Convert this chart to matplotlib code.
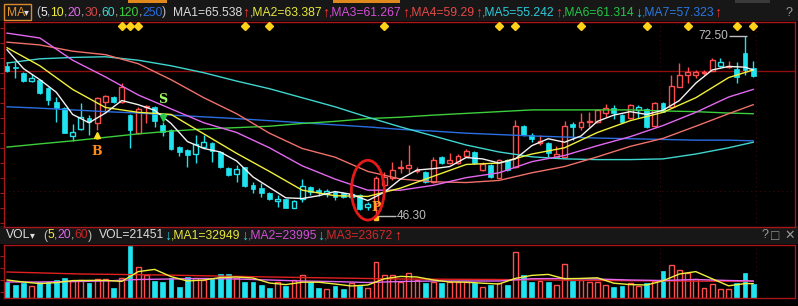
import matplotlib
matplotlib.use("Agg")
import matplotlib.pyplot as plt
from matplotlib.patches import Rectangle, Ellipse
from matplotlib.transforms import blended_transform_factory
import numpy as np

# daily candles, oldest first (price)
opens = [68.2, 68.0, 67.2, 66.0, 66.2, 65.0, 63.0, 62.1, 58.1, 59.1,
         60.7, 60.0, 63.0, 63.7, 63.0, 61.1, 58.5, 62.2, 62.3, 59.7,
         59.0, 56.5, 56.1, 55.5, 56.5, 57.1, 55.8, 53.5, 52.6, 53.6,
         51.1, 50.6, 49.9, 48.8, 49.0, 47.8, 49.0, 50.8, 50.3, 49.8,
         50.1, 49.9, 49.3, 49.6, 47.9, 48.5, 51.1, 52.1, 53.5, 53.5,
         53.1, 52.9, 51.5, 55.1, 54.2, 54.2, 55.2, 55.8, 53.2, 53.9,
         52.1, 54.7, 53.7, 59.6, 58.3, 57.1, 57.1, 55.1, 55.1, 59.8,
         59.4, 60.1, 60.1, 61.4, 62.1, 61.1, 60.7, 61.8, 62.0, 59.5,
         62.9, 62.3, 65.2, 66.9, 66.9, 67.2, 67.5, 68.2, 68.0, 67.8,
         70.1, 67.9]
highs = [68.8, 68.8, 67.3, 67.0, 66.3, 65.1, 63.7, 62.2, 59.8, 62.9,
         61.1, 63.7, 64.0, 63.8, 65.7, 61.2, 62.3, 62.5, 62.4, 60.1,
         59.1, 56.7, 56.2, 58.3, 58.3, 57.2, 55.9, 53.6, 53.9, 53.7,
         51.5, 51.3, 50.0, 49.6, 49.1, 48.9, 51.9, 50.9, 50.6, 50.5,
         50.2, 50.0, 49.9, 49.7, 48.6, 52.4, 52.9, 54.4, 54.7, 56.8,
         53.6, 53.0, 55.1, 55.2, 55.7, 55.5, 56.2, 56.0, 54.3, 54.0,
         54.8, 54.8, 60.4, 59.7, 58.5, 58.3, 57.2, 56.7, 60.3, 60.1,
         61.4, 61.6, 61.9, 62.7, 62.6, 61.3, 62.7, 62.6, 62.1, 63.0,
         63.0, 66.9, 68.6, 68.0, 67.6, 67.6, 69.3, 69.3, 68.9, 68.8,
         72.5, 68.9]
lows = [67.3, 66.5, 65.9, 65.9, 64.2, 62.6, 60.1, 58.5, 57.4, 59.0,
        58.3, 59.0, 61.4, 62.9, 62.9, 56.4, 58.4, 60.0, 59.4, 58.1,
        56.1, 55.2, 53.6, 54.2, 56.4, 54.4, 53.5, 52.3, 51.5, 50.8,
        49.9, 49.3, 48.9, 47.9, 47.7, 47.7, 48.6, 49.6, 49.5, 49.3,
        48.9, 49.2, 49.2, 47.5, 47.5, 46.3, 50.9, 51.8, 52.8, 52.8,
        52.8, 51.4, 51.4, 54.1, 54.1, 54.1, 55.1, 54.1, 53.1, 52.1,
        52.0, 53.1, 53.5, 58.1, 57.3, 56.8, 55.1, 54.9, 55.0, 57.5,
        59.0, 59.4, 60.0, 60.8, 60.6, 60.0, 60.6, 60.7, 59.3, 59.4,
        61.5, 62.2, 65.1, 65.7, 66.5, 66.9, 67.4, 68.0, 67.9, 65.7,
        66.9, 66.6]
closes = [67.5, 67.9, 66.0, 66.5, 64.3, 63.3, 62.1, 58.5, 58.7, 60.8,
          60.1, 63.6, 63.9, 63.0, 65.2, 59.0, 62.0, 62.4, 60.3, 58.7,
          56.2, 55.8, 55.4, 57.0, 57.2, 56.0, 53.6, 52.5, 53.4, 50.9,
          50.5, 49.9, 49.0, 49.0, 47.8, 48.8, 50.9, 50.1, 50.0, 50.2,
          49.3, 49.3, 49.8, 47.6, 48.3, 52.1, 52.2, 53.2, 53.65, 53.9,
          53.2, 51.5, 54.7, 54.2, 54.7, 55.2, 56.0, 54.2, 54.1, 52.2,
          54.7, 53.2, 59.6, 58.3, 57.7, 57.4, 55.7, 55.5, 59.6, 59.4,
          60.1, 60.3, 61.8, 62.1, 61.4, 60.1, 62.6, 62.3, 59.4, 62.9,
          61.6, 65.3, 66.9, 67.3, 67.3, 67.35, 69.0, 68.8, 68.2, 66.6,
          67.6, 66.7]
# volume, thousand lots
volumes = [16, 13, 15, 12, 16, 16, 18, 20, 17, 18,
           15, 19, 19, 10, 20, 52, 31, 23, 17, 16,
           20, 11, 21, 20, 18, 19, 24, 24, 20, 16,
           16, 13, 10, 16, 12, 18, 23, 16, 10, 9,
           12, 9, 15, 12, 10, 36, 23, 23, 16, 25,
           18, 15, 16, 15, 16, 16, 16, 15, 11, 13,
           15, 13, 46, 23, 16, 17, 16, 13, 34, 17,
           18, 16, 16, 13, 11, 12, 15, 12, 15, 17,
           27, 33, 28, 25, 19, 10, 14, 9, 9, 15,
           25, 14]
# up days that the software paints cyan (hollow)
cyan_up = [3, 8, 9, 23, 24, 28, 33, 35, 36, 39, 42, 44, 77, 87]
# yellow diamond markers on top
event_idx = [14, 15, 16, 29, 32, 46, 60, 62, 70, 78, 83, 89, 91]
buy_idx, sell_idx, low_idx, high_idx = 11, 19, 45, 90
ref_price = 67.5

# moving averages
ma5_idx = [0, 2, 4, 6, 8, 10, 12, 14, 16, 18, 20, 22, 24, 26, 28, 30,
           32, 34, 36, 38, 40, 42, 44, 46, 48, 50, 52, 54, 56, 58, 60,
           62, 64, 66, 68, 70, 72, 74, 76, 78, 80, 82, 84, 86, 88, 90, 91]
ma5 = [70.5, 67.8, 66.2, 64.4, 61.2, 60.0, 61.4, 63.2, 62.6, 61.8, 59.9,
       57.3, 56.3, 55.8, 54.5, 52.2, 50.7, 49.2, 49.1, 49.5, 50.1, 49.7,
       48.8, 50.0, 51.9, 53.2, 53.4, 53.7, 55.0, 54.8, 54.2, 54.8, 56.7,
       57.7, 57.2, 58.1, 60.2, 61.1, 61.6, 61.2, 61.8, 63.2, 65.7, 67.6,
       68.1, 68.0, 67.6]
ma_idx = [0, 4, 8, 12, 16, 20, 24, 28, 32, 36, 40, 44, 48, 52, 56, 60,
          64, 68, 72, 76, 80, 84, 88, 91]
ma10 = [70.8, 68.2, 64.8, 62.2, 61.5, 61.2, 58.4, 55.6, 53.0, 50.3, 49.5,
        49.4, 50.6, 52.3, 54.0, 54.2, 55.5, 56.4, 58.6, 60.3, 61.5, 63.6,
        66.5, 67.6]
ma20 = [72.9, 72.2, 69.0, 66.6, 64.0, 62.0, 60.0, 58.6, 56.4, 53.8, 51.9,
        50.3, 50.3, 51.0, 52.1, 52.8, 54.4, 55.3, 56.7, 58.0, 59.6, 61.5,
        63.7, 64.8]
ma30 = [71.6, 71.2, 70.3, 69.8, 68.5, 66.2, 63.6, 61.3, 58.5, 56.3, 55.05,
        53.0, 51.9, 51.5, 51.4, 51.7, 52.8, 53.7, 55.1, 56.6, 57.75, 59.5,
        61.3, 62.6]
ma60 = [68.6, 69.2, 69.4, 69.5, 69.0, 68.2, 67.2, 66.0, 64.9, 63.6, 62.3,
        60.8, 59.4, 58.1, 56.8, 55.8, 55.1, 54.8, 54.7, 54.7, 54.8, 55.5,
        56.4, 57.2]
ma120 = [56.5, 56.96, 57.4, 57.9, 58.4, 58.8, 59.1, 59.3, 59.5, 59.9, 60.2,
         60.6, 60.8, 61.1, 61.35, 61.6, 61.85, 61.85, 61.85, 61.85, 61.7,
         61.6, 61.4, 61.3]
ma250 = [62.3, 62.1, 61.85, 61.6, 61.4, 61.1, 60.85, 60.6, 60.3, 60.0, 59.7,
         59.4, 59.05, 58.8, 58.5, 58.3, 58.1, 57.95, 57.8, 57.7, 57.6, 57.5,
         57.5, 57.4]

vol_ma5 = [18, 16, 14.4, 15.4, 17.4, 17.6, 17.6, 16.6, 26.4, 28.6, 21.4,
           17, 18, 20.4, 21, 20, 15, 13.4, 15.8, 15.8, 14, 12, 13, 19.2,
           21.6, 21, 18, 16, 15.8, 14.8, 14, 19.6, 22.6, 23.6, 19.2, 19.6,
           20.2, 14.8, 13.4, 13, 17.2, 24, 26.4, 19.2, 12.2, 14.4, 14.4]
vol_ma20 = [16, 16, 16.5, 17, 18.5, 19, 19.5, 19, 18, 17, 16.4, 15.5, 16.5,
            17, 17, 17, 19.3, 19.5, 19, 18, 17.5, 18.5, 17.5, 17]
vol_ma60_idx = [0, 9, 19, 32, 40, 48, 60, 72, 84, 91]
vol_ma60 = [26, 24, 23, 21, 20, 19, 18.5, 17.5, 16.8, 16.8]

W, H = 798, 306
FAM = ['Liberation Sans', 'DejaVu Sans']
RED = '#ff4d4d'
CYAN = '#1fe3ee'
FRAME = '#a8161a'
GRAY = '#bdbdbd'
C_WHITE, C_YEL, C_MAG, C_SAL = '#f2f2f2', '#f0f03c', '#e268f0', '#f0706a'
C_TEAL, C_GRN, C_BLU = '#3fd6d0', '#3ccf3c', '#2a6ee0'
UP, DN = '#ff3030', '#22d0d8'

fig = plt.figure(figsize=(W / 100, H / 100), dpi=100, facecolor='black')


def box(x0, y0, x1, y1):
    return [x0 / W, 1 - y1 / H, (x1 - x0) / W, (y1 - y0) / H]


def fig_rect(x0, y0, x1, y1, **kw):
    fig.patches.append(Rectangle((x0 / W, 1 - y1 / H), (x1 - x0) / W, (y1 - y0) / H,
                                 transform=fig.transFigure, zorder=-1, **kw))


# header strips
fig_rect(0, 0, W, 21, facecolor='#171717', edgecolor='none')
fig_rect(0, 226, W, 244, facecolor='#171717', edgecolor='none')
fig_rect(128, 0, 167, 2.5, facecolor='#e08a1e', edgecolor='none')
fig_rect(333, 0, 400, 2.5, facecolor='#e08a1e', edgecolor='none')
fig_rect(735, 0, 770, 2.5, facecolor='#3a3a3a', edgecolor='none')
fig_rect(4, 4, 31, 20, facecolor='none', edgecolor='#d98a2a', lw=1)

ax = fig.add_axes(box(4, 22, 795, 227), facecolor='black')
axv = fig.add_axes(box(4, 245, 795, 298), facecolor='black')

for a in (ax, axv):
    for s in a.spines.values():
        s.set_color(FRAME)
        s.set_linewidth(1)
    a.set_xlim(-0.37, 96.1)
    a.set_xticks([])
    a.tick_params(axis='y', direction='out', length=3, color=FRAME, labelleft=False)

ax.set_ylim(45.0, 74.5)
ax.set_yticks(np.arange(45.6, 74.5, 2.16))
axv.set_ylim(0, 53)
axv.set_yticks([6, 18, 30, 42])

# faint dotted grid
for a in (ax, axv):
    a.axvline(79.6, color='#3a0a0a', lw=0.8, ls=(0, (1, 3)), zorder=0)
    a.axvline(91.3, color='#3a0a0a', lw=0.8, ls=(0, (1, 3)), zorder=0)
ax.axhline(50.2, color='#3a0a0a', lw=0.8, ls=(0, (1, 3)), zorder=0)
ax.axhline(ref_price, color='#8e0e0e', lw=1, zorder=1)

bw = 0.6
for i in range(len(closes)):
    o, h, l, c = opens[i], highs[i], lows[i], closes[i]
    if c >= o:
        col = CYAN if i in cyan_up else RED
        ax.vlines(i, c, h, color=col, lw=1, zorder=2)
        ax.vlines(i, l, o, color=col, lw=1, zorder=2)
        ax.add_patch(Rectangle((i - bw / 2, o), bw, max(c - o, 0.04), facecolor='black',
                               edgecolor=col, lw=1, zorder=3))
        axv.add_patch(Rectangle((i - bw / 2, 0), bw, volumes[i], facecolor='black',
                                edgecolor=RED, lw=1, zorder=2))
    else:
        ax.vlines(i, l, h, color=CYAN, lw=1, zorder=2)
        ax.add_patch(Rectangle((i - bw / 2, c), bw, o - c, facecolor=CYAN,
                               edgecolor=CYAN, lw=0.5, zorder=3))
        axv.add_patch(Rectangle((i - bw / 2, 0), bw, volumes[i], facecolor=CYAN,
                                edgecolor=CYAN, lw=0.5, zorder=2))

ax.plot(ma_idx, ma250, color=C_BLU, lw=1, zorder=4)
ax.plot(ma_idx, ma120, color=C_GRN, lw=1, zorder=4)
ax.plot(ma_idx, ma60, color=C_TEAL, lw=1, zorder=4)
ax.plot(ma_idx, ma30, color=C_SAL, lw=1, zorder=4)
ax.plot(ma_idx, ma20, color=C_MAG, lw=1, zorder=4)
ax.plot(ma_idx, ma10, color=C_YEL, lw=1, zorder=4)
ax.plot(ma5_idx, ma5, color=C_WHITE, lw=1, zorder=4)

axv.plot(vol_ma60_idx, vol_ma60, color='#e02020', lw=1, zorder=3)
axv.plot(ma_idx, vol_ma20, color=C_MAG, lw=1, zorder=3)
axv.plot(ma5_idx, vol_ma5, color=C_YEL, lw=1, zorder=3)

# event diamonds along the top
trans = blended_transform_factory(ax.transData, ax.transAxes)
ax.plot(event_idx, [0.98] * len(event_idx), 'D', color='#ffd21a', ms=3.6,
        transform=trans, clip_on=False, zorder=5)

# B / S / P signals
ax.plot(buy_idx, 58.3, '^', color='#ffe020', ms=5, zorder=5)
ax.vlines(buy_idx, 57.7, 58.3, color='#ffe020', lw=2, zorder=5)
ax.text(buy_idx, 55.9, 'B', color='#ff8a1a', fontsize=9, fontweight='bold',
        ha='center', va='center', family='DejaVu Serif', zorder=5)
ax.text(sell_idx, 63.4, 'S', color='#9cff60', fontsize=9, fontweight='bold',
        ha='center', va='center', family='DejaVu Serif', zorder=5)
ax.plot(sell_idx, 60.7, 'v', color='#22c84a', ms=5, zorder=5)
ax.vlines(sell_idx, 60.8, 61.4, color='#22c84a', lw=2, zorder=5)
ax.text(low_idx, 47.75, 'P', color='#ffa020', fontsize=9, fontweight='bold',
        ha='center', va='center', family='DejaVu Serif', zorder=6)
ax.plot(low_idx, lows[low_idx], 's', color='#ffc020', ms=2.5, zorder=6)
ax.add_patch(Ellipse((44.0, 50.3), 4.0, 8.6, facecolor='none', edgecolor='#e41a1a',
                     lw=2, zorder=6))

# extreme labels
ax.hlines(46.55, low_idx + 0.3, low_idx + 2.4, color=GRAY, lw=1, zorder=5)
ax.text(low_idx + 2.5, 46.55, '%.2f' % lows[low_idx], color=GRAY, fontsize=8.6,
        va='center', ha='left', family=FAM)
ax.hlines(highs[high_idx], high_idx - 2.0, high_idx + 0.2, color=GRAY, lw=1, zorder=5)
ax.text(high_idx - 2.1, highs[high_idx], '%.2f' % highs[high_idx], color=GRAY,
        fontsize=8.6, va='center', ha='right', family=FAM)


def chain(x_px, y_px, pieces, size=8.7):
    t = fig.text(x_px / W, 1 - y_px / H, pieces[0][0], color=pieces[0][1],
                 fontsize=size, va='center', ha='left', family=FAM)
    for s, c in pieces[1:]:
        fs = size + 1.5 if s in ('\u2191', '\u2193') else size
        t = ax.annotate(s, xy=(1, 0.5), xycoords=t, va='center', ha='left', color=c,
                        fontsize=fs, family=FAM, annotation_clip=False)


fig.text(7 / W, 1 - 12.5 / H, 'MA', color='#e8962e', fontsize=8.7, va='center',
         family=FAM)
fig.text(24 / W, 1 - 12.5 / H, '\u25be', color='#dddddd', fontsize=7, va='center',
         family=FAM)
chain(36, 12.5, [('(', GRAY), ('5', C_WHITE), (',', GRAY), ('10', C_YEL), (',', GRAY),
                 ('20', C_MAG), (',', GRAY), ('30', '#d04848'), (',', GRAY),
                 ('60', C_TEAL), (',', GRAY), ('120', C_GRN), (',', GRAY),
                 ('250', C_BLU), (')  ', GRAY),
                 ('MA1=65.538', '#dcdcdc'), ('\u2191', UP),
                 (',MA2=63.387', '#e8e83a'), ('\u2191', UP),
                 (',MA3=61.267', '#d44ed8'), ('\u2191', UP),
                 (',MA4=59.29', '#e84848'), ('\u2191', UP),
                 (',MA5=55.242', '#2ccbd8'), ('\u2191', UP),
                 (',MA6=61.314', '#22c844'), ('\u2193', DN),
                 (',MA7=57.323', '#2b7ae2'), ('\u2191', UP)])
fig.text(786 / W, 1 - 12.5 / H, '?', color='#9a9a9a', fontsize=9, va='center',
         family=FAM)

fig.text(6 / W, 1 - 235.5 / H, 'VOL', color='#dddddd', fontsize=8.7, va='center',
         family=FAM)
fig.text(30 / W, 1 - 235.5 / H, '\u25be', color='#dddddd', fontsize=7, va='center',
         family=FAM)
chain(43, 235.5, [('(', GRAY), ('5', C_YEL), (',', GRAY), ('20', C_MAG), (',', GRAY),
                  ('60', '#c02828'), (')  ', GRAY),
                  ('VOL=21451', '#dcdcdc'), ('\u2193', DN),
                  (',MA1=32949', '#e8e83a'), ('\u2193', DN),
                  (',MA2=23995', '#d44ed8'), ('\u2193', DN),
                  (',MA3=23672', '#d42828'), ('\u2191', UP)])
fig.text(762 / W, 1 - 235.5 / H, '?', color='#9a9a9a', fontsize=9, va='center',
         family=FAM)
fig.text(771 / W, 1 - 235.5 / H, '\u25a1', color='#9a9a9a', fontsize=10, va='center',
         family=FAM)
fig.text(784 / W, 1 - 235.5 / H, '\u2715', color='#9a9a9a', fontsize=9, va='center',
         family=FAM)

fig.savefig('out.png', dpi=100, facecolor='black')
